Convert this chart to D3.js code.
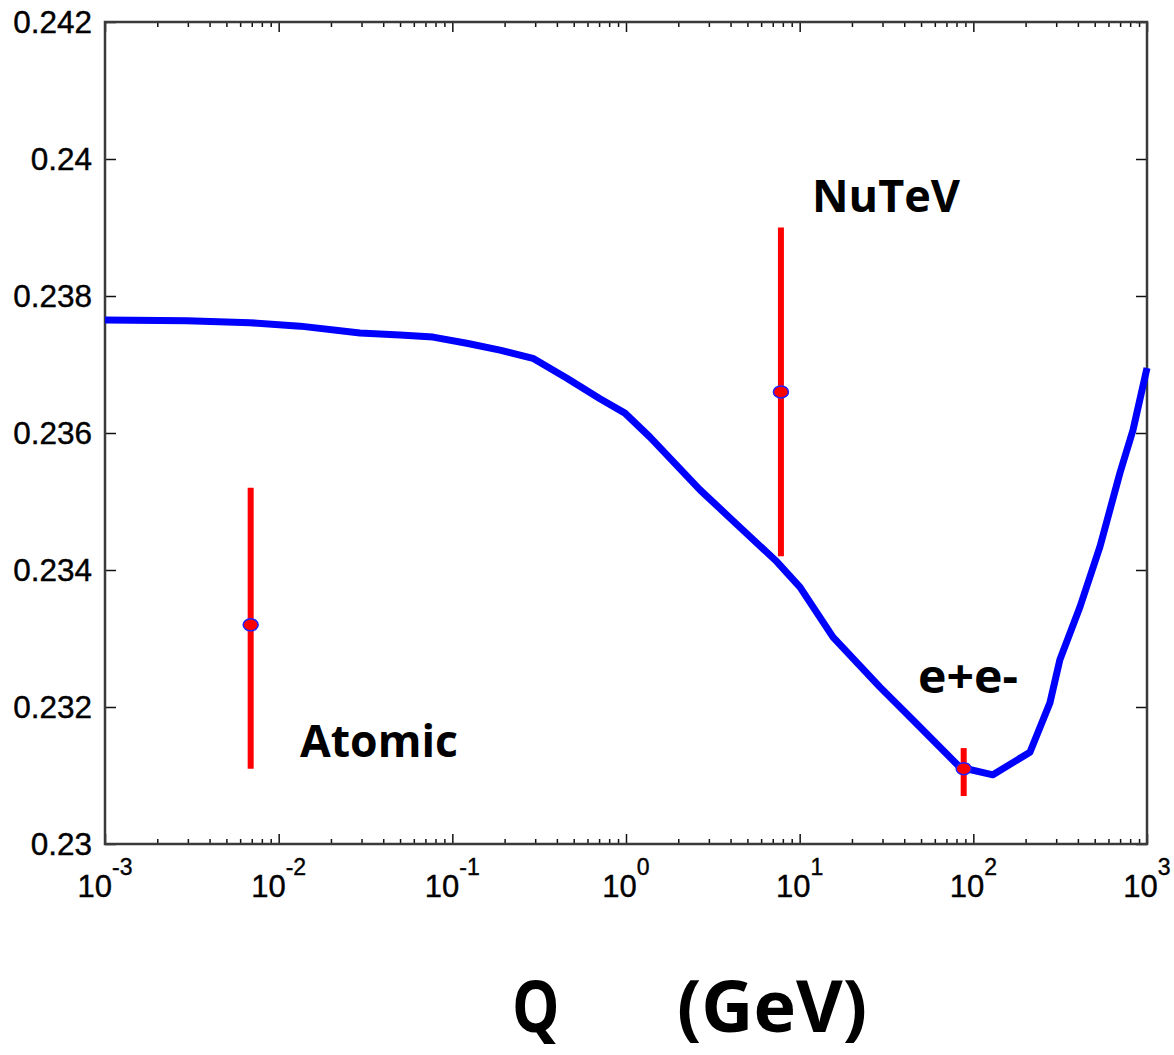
<!DOCTYPE html>
<html>
<head>
<meta charset="utf-8">
<script src="https://cdn.jsdelivr.net/npm/d3@7"></script>
<style>
  html, body { margin: 0; padding: 0; background: #fff; }
  svg { display: block; }
</style>
</head>
<body>
<svg id="chart" width="1174" height="1055"></svg>
<script>
// ---- data ----
const curveQ = [0.001, 0.00296, 0.00684, 0.0133, 0.0294, 0.05, 0.0774, 0.121, 0.188, 0.291, 0.457, 0.708, 0.986, 1.374, 2.667, 3.97, 7.40, 10.04, 15.56, 29.0, 44.9, 83.7, 129.7, 211.8, 276, 315, 411, 536, 699, 830, 1000];
const curveS = [0.23765, 0.23764, 0.23761, 0.23756, 0.23746, 0.23743, 0.23740, 0.23731, 0.23721, 0.23709, 0.23680, 0.23650, 0.23629, 0.23594, 0.23517, 0.23476, 0.23412, 0.23375, 0.23302, 0.23229, 0.23181, 0.23112, 0.23101, 0.23134, 0.23206, 0.23269, 0.23346, 0.23434, 0.23542, 0.23604, 0.23695];

const expNames = ["Atomic", "NuTeV", "e+e-"];
const expQ = [0.0069, 7.8, 88];
const expVal = [0.2332, 0.2366, 0.2311];
const expLow = [0.2311, 0.2342, 0.2307];
const expHigh = [0.2352, 0.2390, 0.2314];

const yTicks = [0.230, 0.232, 0.234, 0.236, 0.238, 0.240, 0.242];
const yTickLabels = ["0.23", "0.232", "0.234", "0.236", "0.238", "0.24", "0.242"];
const xDecades = [0.001, 0.01, 0.1, 1, 10, 100, 1000];
const xExponents = ["-3", "-2", "-1", "0", "1", "2", "3"];
const axisTitle = ["Q", "(GeV)"];

// ---- layout ----
const L = 105, R = 1147, T = 22, B = 844;
const svg = d3.select("#chart");
const x = d3.scaleLog().domain([0.001, 1000]).range([L, R]);
const y = d3.scaleLinear().domain([0.230, 0.242]).range([B, T]);

const axisColor = "#3a3a3a";
const labelFont = "'Liberation Sans', Arial, sans-serif";
const handFont = "'Comic Sans MS', 'Open Sans', sans-serif";

// minor ticks
const minorTicks = [];
for (let d = 0; d < 6; d++) for (let k = 2; k <= 9; k++) minorTicks.push(xDecades[d] * k);

// ticks via axes (inward)
const gB = svg.append("g").attr("transform", `translate(0,${B})`)
  .call(d3.axisTop(x).tickValues(xDecades).tickSize(10).tickFormat(""));
const gBm = svg.append("g").attr("transform", `translate(0,${B})`)
  .call(d3.axisTop(x).tickValues(minorTicks).tickSize(5).tickFormat(""));
const gT = svg.append("g").attr("transform", `translate(0,${T})`)
  .call(d3.axisBottom(x).tickValues(xDecades).tickSize(10).tickFormat(""));
const gTm = svg.append("g").attr("transform", `translate(0,${T})`)
  .call(d3.axisBottom(x).tickValues(minorTicks).tickSize(5).tickFormat(""));
const gL = svg.append("g").attr("transform", `translate(${L},0)`)
  .call(d3.axisRight(y).tickValues(yTicks).tickSize(11).tickFormat(""));
const gR = svg.append("g").attr("transform", `translate(${R},0)`)
  .call(d3.axisLeft(y).tickValues(yTicks).tickSize(11).tickFormat(""));
[gB, gBm, gT, gTm, gL, gR].forEach(g => {
  g.select(".domain").remove();
  g.selectAll(".tick line").attr("stroke", "#111").attr("stroke-width", 1.5);
});

// frame
svg.append("rect").attr("x", L).attr("y", T).attr("width", R - L).attr("height", B - T)
  .attr("fill", "none").attr("stroke", axisColor).attr("stroke-width", 2.5);

// y tick labels
svg.append("g").selectAll("text").data(yTicks).join("text")
  .attr("x", 92).attr("y", d => y(d) + 11)
  .attr("text-anchor", "end")
  .attr("font-family", labelFont).attr("font-size", 31.5).attr("fill", "#000")
  .attr("stroke", "#000").attr("stroke-width", 0.4)
  .text((d, i) => yTickLabels[i]);

// x tick labels 10^n
const xl = svg.append("g").selectAll("text").data(xDecades).join("text")
  .attr("x", d => x(d)).attr("y", 897)
  .attr("text-anchor", "middle")
  .attr("font-family", labelFont).attr("fill", "#000")
  .attr("stroke", "#000").attr("stroke-width", 0.4);
xl.append("tspan").attr("font-size", 31).text("10");
xl.append("tspan").attr("font-size", 23).attr("dy", -22).text((d, i) => xExponents[i]);

// curve
const line = d3.line().x((d, i) => x(curveQ[i])).y(d => y(d));
svg.append("path").datum(curveS).attr("d", line)
  .attr("fill", "none").attr("stroke", "#0000ff").attr("stroke-width", 7)
  .attr("stroke-linejoin", "round");

// error bars
svg.append("g").selectAll("line").data(expNames).join("line")
  .attr("x1", (d, i) => x(expQ[i])).attr("x2", (d, i) => x(expQ[i]))
  .attr("y1", (d, i) => y(expHigh[i])).attr("y2", (d, i) => y(expLow[i]))
  .attr("stroke", "#ff0000").attr("stroke-width", 6);

// markers
svg.append("g").selectAll("ellipse").data(expNames).join("ellipse")
  .attr("cx", (d, i) => x(expQ[i])).attr("cy", (d, i) => y(expVal[i]))
  .attr("rx", 7.5).attr("ry", 6)
  .attr("fill", "#ff0000").attr("stroke", "#2020ff").attr("stroke-width", 1.5);

// experiment labels
const labelPos = [
  { x: 300, y: 757, w: 158, fs: 44 },
  { x: 812, y: 212, w: 148, fs: 44 },
  { x: 918, y: 693, w: 100, fs: 46 }
];
svg.append("g").selectAll("text").data(expNames).join("text")
  .attr("x", (d, i) => labelPos[i].x).attr("y", (d, i) => labelPos[i].y)
  .attr("font-family", handFont).attr("font-weight", "bold")
  .attr("font-size", (d, i) => labelPos[i].fs)
  .attr("textLength", (d, i) => labelPos[i].w)
  .attr("lengthAdjust", "spacingAndGlyphs")
  .attr("fill", "#000")
  .text(d => d);

// axis title
const at = svg.append("text").attr("y", 1032)
  .attr("font-family", handFont).attr("font-weight", "bold").attr("font-size", 72).attr("fill", "#000");
at.append("tspan").attr("x", 512).attr("textLength", 63).attr("lengthAdjust", "spacingAndGlyphs").text(axisTitle[0] + " ");
at.append("tspan").attr("x", 677).attr("textLength", 190).attr("lengthAdjust", "spacingAndGlyphs").text(axisTitle[1]);
</script>
</body>
</html>
